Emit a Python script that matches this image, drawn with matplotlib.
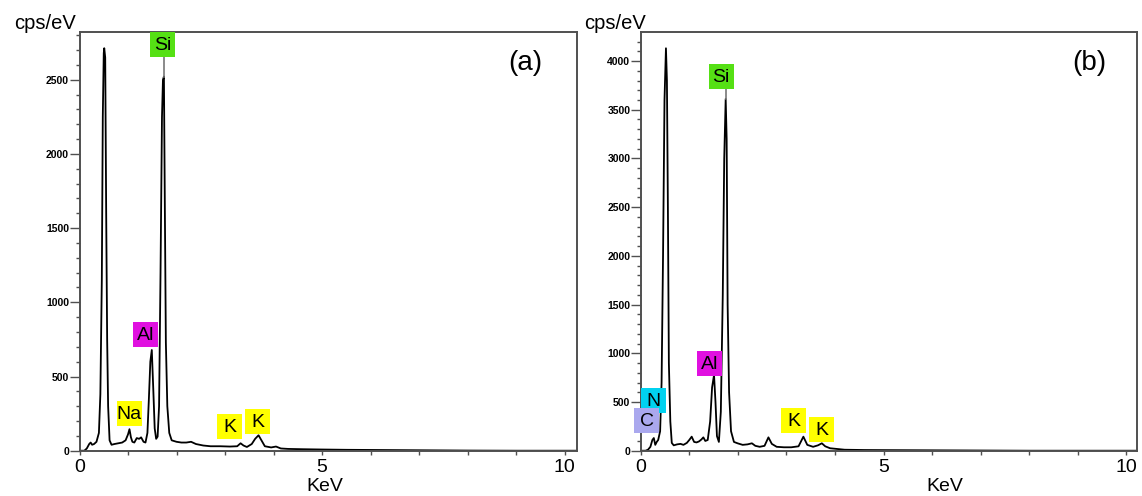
import numpy as np
import matplotlib
matplotlib.use("Agg")
import matplotlib.pyplot as plt
from matplotlib.patches import Rectangle
from matplotlib.ticker import MultipleLocator, FixedLocator

plt.rcParams['font.family'] = ['Liberation Sans', 'DejaVu Sans']

# spectrum (a): energy in keV, counts in cps/eV
energy_a = [0.00, 0.10, 0.15, 0.20, 0.23, 0.26, 0.30, 0.35, 0.40, 0.43, 0.46, 0.48,
            0.50, 0.51, 0.53, 0.55, 0.57, 0.59, 0.62, 0.66, 0.72, 0.80, 0.88, 0.95,
            1.00, 1.03, 1.06, 1.09, 1.13, 1.18, 1.23, 1.27, 1.32, 1.36, 1.40, 1.43,
            1.46, 1.49, 1.52, 1.55, 1.58, 1.61, 1.64, 1.67, 1.70, 1.72, 1.74, 1.76,
            1.78, 1.81, 1.85, 1.90, 2.00, 2.10, 2.20, 2.30, 2.40, 2.55, 2.70, 2.90,
            3.10, 3.25, 3.32, 3.38, 3.45, 3.55, 3.62, 3.69, 3.75, 3.82, 3.95, 4.05,
            4.15, 4.30, 4.60, 5.00, 5.50, 6.00, 6.50, 7.00, 7.50, 8.00, 9.00, 10.3]
counts_a = [0, 0, 15, 45, 55, 40, 45, 60, 120, 380, 1150, 2250,
            2680, 2713, 2650, 1600, 750, 300, 70, 40, 45, 50, 55, 70,
            110, 145, 90, 60, 55, 85, 80, 90, 60, 55, 120, 350,
            600, 679, 420, 150, 80, 95, 300, 1200, 2250, 2500, 2522, 1600,
            730, 300, 120, 70, 60, 55, 55, 60, 45, 35, 30, 30,
            28, 30, 50, 35, 25, 45, 80, 104, 70, 30, 22, 28,
            15, 12, 10, 8, 6, 5, 4, 3, 2, 1, 0, 0]

# spectrum (b)
energy_b = [0.00, 0.10, 0.15, 0.20, 0.24, 0.27, 0.30, 0.33, 0.36, 0.40, 0.43, 0.46,
            0.49, 0.52, 0.54, 0.56, 0.58, 0.61, 0.64, 0.68, 0.75, 0.82, 0.88, 0.95,
            1.00, 1.05, 1.10, 1.15, 1.20, 1.25, 1.29, 1.33, 1.38, 1.43, 1.47, 1.51,
            1.54, 1.57, 1.61, 1.65, 1.69, 1.72, 1.75, 1.77, 1.79, 1.82, 1.86, 1.92,
            2.00, 2.10, 2.20, 2.29, 2.36, 2.45, 2.55, 2.63, 2.70, 2.80, 2.95, 3.10,
            3.25, 3.35, 3.43, 3.55, 3.65, 3.73, 3.80, 3.90, 4.00, 4.20, 4.60, 5.00,
            5.50, 6.00, 6.50, 7.00, 7.50, 8.00, 10.3]
counts_b = [0, 0, 10, 40, 110, 130, 60, 90, 110, 200, 700, 2000,
            3600, 4131, 3800, 2500, 900, 300, 80, 55, 65, 70, 60, 80,
            110, 144, 90, 85, 95, 115, 137, 100, 110, 300, 650, 777,
            500, 150, 90, 400, 1600, 3000, 3611, 3200, 1500, 600, 200, 90,
            75, 60, 65, 76, 50, 40, 50, 137, 70, 40, 35, 35,
            45, 144, 60, 40, 55, 76, 45, 25, 20, 10, 7, 6,
            5, 4, 3, 2, 1, 0, 0]

# element labels: text, box centre (keV, counts), colour, peak energy
labels_a = [("Si", 1.717, 2737, "#55e014", 1.74),
            ("Al", 1.367, 781, "#e010e0", None),
            ("Na", 1.025, 252, "#ffff00", None),
            ("K", 3.10, 161, "#ffff00", None),
            ("K", 3.67, 196, "#ffff00", None)]
labels_b = [("Si", 1.654, 3840, "#55e014", 1.75),
            ("Al", 1.417, 898, "#e010e0", None),
            ("N", 0.26, 518, "#00d2f0", None),
            ("C", 0.126, 310, "#aaa8ee", None),
            ("K", 3.147, 307, "#ffff00", None),
            ("K", 3.73, 221, "#ffff00", None)]

FIG_W, FIG_H = 1142, 496
BOX_PX = 25
spine_col = "#505050"

fig = plt.figure(figsize=(FIG_W / 100, FIG_H / 100), dpi=100)


def draw_panel(pos, energy, counts, labels, xmax, ymax, tag, tag_x, ylab_x, xlab_x):
    ax = fig.add_axes(pos)
    ax.plot(energy, counts, color="black", lw=1.3)
    ax.set_xlim(0, xmax)
    ax.set_ylim(0, ymax)

    ax.xaxis.set_major_locator(FixedLocator([0, 5, 10]))
    ax.xaxis.set_minor_locator(MultipleLocator(1))
    ax.yaxis.set_minor_locator(MultipleLocator(100))
    ax.set_yticks([t for t in np.arange(0, ymax, 500)])
    ax.tick_params(axis="x", which="both", direction="out", length=3, width=1,
                   color=spine_col, labelsize=14, pad=3)
    ax.tick_params(axis="y", which="major", direction="out", length=7, width=1,
                   color=spine_col, pad=0.5)
    ax.tick_params(axis="y", which="minor", direction="out", length=3, width=1,
                   color=spine_col)
    for lab in ax.get_yticklabels():
        lab.set_fontsize(7.5)
        lab.set_fontweight("bold")
    for sp in ax.spines.values():
        sp.set_color(spine_col)
        sp.set_linewidth(1.4)

    ax.set_xlabel("KeV", fontsize=14)
    ax.xaxis.set_label_coords(xlab_x, -0.066)
    ax.text(ylab_x, 1.007, "cps/eV", transform=ax.transAxes, ha="right",
            va="baseline", fontsize=14.5)
    ax.text(tag_x, 0.926, tag, transform=ax.transAxes, ha="center",
            va="center", fontsize=20)

    # label boxes, sized in pixels
    w = BOX_PX * xmax / (pos[2] * FIG_W)
    h = BOX_PX * ymax / (pos[3] * FIG_H)
    for txt, x, y, col, peak in labels:
        if peak is not None:
            top = np.interp(peak, energy, counts)
            ax.plot([peak, peak], [top, y - h / 2], color="#777777", lw=1.2)
        ax.add_patch(Rectangle((x - w / 2, y - h / 2), w, h, facecolor=col,
                               edgecolor="none", zorder=3, clip_on=False))
        ax.text(x, y - h * 0.04, txt, ha="center", va="center", fontsize=14,
                zorder=4, clip_on=False)
    return ax


draw_panel([79.5 / FIG_W, 45.3 / FIG_H, 497.8 / FIG_W, 418.4 / FIG_H],
           energy_a, counts_a, labels_a, 10.26, 2820, "(a)", 0.895, -0.007, 0.4926)
draw_panel([640.7 / FIG_W, 45.3 / FIG_H, 496.3 / FIG_W, 418.4 / FIG_H],
           energy_b, counts_b, labels_b, 10.22, 4295, "(b)", 0.903, 0.0107, 0.613)

fig.savefig("out.png", dpi=100)
